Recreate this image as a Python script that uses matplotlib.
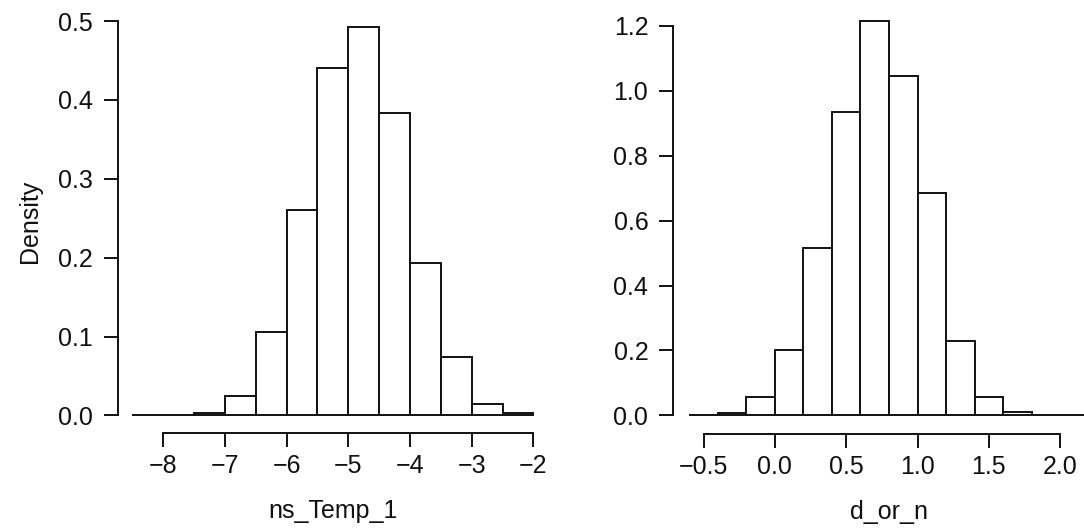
import matplotlib
matplotlib.use("Agg")
import matplotlib.pyplot as plt
import numpy as np

plt.rcParams['font.family'] = ['Liberation Sans', 'DejaVu Sans']

# Left histogram: ns_Temp_1
left_edges = [-8.5, -8.0, -7.5, -7.0, -6.5, -6.0, -5.5, -5.0, -4.5, -4.0, -3.5, -3.0, -2.5, -2.0]
left_density = [0.0, 0.0, 0.003, 0.025, 0.106, 0.261, 0.441, 0.493, 0.384, 0.193, 0.074, 0.015, 0.003]
left_xticks = [-8, -7, -6, -5, -4, -3, -2]
left_yticks = [0.0, 0.1, 0.2, 0.3, 0.4, 0.5]

# Right histogram: d_or_n
right_edges = [-0.6, -0.4, -0.2, 0.0, 0.2, 0.4, 0.6, 0.8, 1.0, 1.2, 1.4, 1.6, 1.8, 2.0, 2.2]
right_density = [0.0, 0.008, 0.057, 0.203, 0.515, 0.935, 1.215, 1.046, 0.684, 0.229, 0.057, 0.012, 0.0, 0.0]
right_xticks = [-0.5, 0.0, 0.5, 1.0, 1.5, 2.0]
right_yticks = [0.0, 0.2, 0.4, 0.6, 0.8, 1.0, 1.2]

W, H = 1084, 531
fig = plt.figure(figsize=(W / 100, H / 100), dpi=100)


def px_axes(l, r, t, b):
    return fig.add_axes([l / W, 1 - b / H, (r - l) / W, (b - t) / H])


FS = 18
LW = 1.4


def style(ax, xticks, yticks, xlabel, ylabel=None, yfmt="{:.1f}", xfmt=None):
    for s in ['top', 'right']:
        ax.spines[s].set_visible(False)
    ax.spines['left'].set_bounds(yticks[0], yticks[-1])
    ax.spines['bottom'].set_bounds(xticks[0], xticks[-1])
    for s in ['left', 'bottom']:
        ax.spines[s].set_linewidth(LW)
        ax.spines[s].set_color('#111111')
    ax.set_xticks(xticks)
    ax.set_yticks(yticks)
    if xfmt:
        ax.set_xticklabels([xfmt(v) for v in xticks])
    else:
        ax.set_xticklabels([("\u2212" if v < 0 else "") + f"{abs(v):g}" for v in xticks])
    ax.set_yticklabels([yfmt.format(v) for v in yticks])
    ax.tick_params(direction='out', length=10, width=LW, labelsize=FS, colors='#111111')
    ax.tick_params(axis='x', pad=5)
    ax.tick_params(axis='y', pad=8)
    ax.set_xlabel(xlabel, fontsize=FS, labelpad=15, color='#111111')
    if ylabel:
        ax.set_ylabel(ylabel, fontsize=FS, labelpad=11, color='#111111')
    ax.patch.set_alpha(0)


# Left axes
axL = px_axes(117.5, 549, 10, 433)
widths = np.diff(left_edges)
axL.bar(left_edges[:-1], left_density, width=widths, align='edge',
        facecolor='white', edgecolor='#111111', linewidth=LW)
axL.set_xlim(-8.743, -1.746)
axL.set_ylim(-0.0222, 0.514)
style(axL, left_xticks, left_yticks, "ns_Temp_1", "Density")

# Right axes (plot region extends beyond the image's right edge)
axR = px_axes(673.3, 1104.7, 10, 434)
widths = np.diff(right_edges)
axR.bar(right_edges[:-1], right_density, width=widths, align='edge',
        facecolor='white', edgecolor='#111111', linewidth=LW)
axR.set_xlim(-0.712, 2.312)
axR.set_ylim(-0.057, 1.248)
style(axR, right_xticks, right_yticks, "d_or_n",
      xfmt=lambda v: ("\u2212" if v < 0 else "") + f"{abs(v):.1f}")

fig.savefig("out.png", dpi=100)
